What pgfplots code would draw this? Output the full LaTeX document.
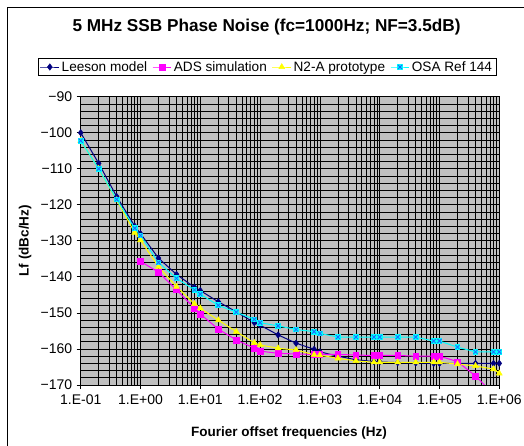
\documentclass[border=0pt]{standalone}
\usepackage{fontspec}
\setmainfont{Liberation Sans}
\usepackage{pgfplots}
\pgfplotsset{compat=1.18}
\definecolor{leeson}{HTML}{000080}
\definecolor{ads}{HTML}{FF00FF}
\definecolor{proto}{HTML}{FFFF00}
\definecolor{osa}{HTML}{00FFFF}
\definecolor{osax}{HTML}{1E64FF}
\definecolor{plotbg}{HTML}{C0C0C0}

\pgfdeclareplotmark{osabox}{%
  \pgfpathrectangle{\pgfpoint{-\pgfplotmarksize}{-\pgfplotmarksize}}%
    {\pgfpoint{2\pgfplotmarksize}{2\pgfplotmarksize}}%
  \pgfsetfillcolor{osa}\pgfusepath{fill}%
  \pgfpathmoveto{\pgfpoint{-0.7\pgfplotmarksize}{-0.7\pgfplotmarksize}}%
  \pgfpathlineto{\pgfpoint{0.7\pgfplotmarksize}{0.7\pgfplotmarksize}}%
  \pgfpathmoveto{\pgfpoint{-0.7\pgfplotmarksize}{0.7\pgfplotmarksize}}%
  \pgfpathlineto{\pgfpoint{0.7\pgfplotmarksize}{-0.7\pgfplotmarksize}}%
  \pgfsetstrokecolor{osax}\pgfusepath{stroke}%
}

\begin{document}
\begin{tikzpicture}
\useasboundingbox (-80.7pt,-61pt) rectangle (443.3pt,385pt);
\fill[white] (-80.7pt,-61pt) rectangle (443.3pt,385pt);
\draw[line width=0.9pt] (-73.7pt,-80pt) rectangle (460pt,378pt);
\begin{axis}[
  scale only axis,
  width=418.6pt, height=288.3pt,
  xmode=log,
  xmin=0.1, xmax=1e6,
  ymin=-170, ymax=-90,
  xtick={0.1,1,10,100,1000,10000,100000,1000000},
  xticklabels={1.E-01,1.E+00,1.E+01,1.E+02,1.E+03,1.E+04,1.E+05,1.E+06},
  ytick={-170,-160,-150,-140,-130,-120,-110,-100,-90},
  yticklabels={−170,−160,−150,−140,−130,−120,−110,−100,−90},
  minor y tick num=4,
  tick pos=left,
  tick align=outside,
  major tick length=4pt,
  minor tick length=0pt,
  tick style={black, line width=0.8pt},
  grid=both,
  major grid style={black, line width=0.8pt},
  minor grid style={black, line width=0.8pt},
  axis background/.style={fill=plotbg},
  axis line style={black, line width=0.8pt},
  ticklabel style={font=\fontsize{14}{16}\selectfont},
  xticklabel style={yshift=-2pt},
  yticklabel style={xshift=-1pt},
  title={5 MHz SSB Phase Noise (fc=1000Hz; NF=3.5dB)},
  title style={at={(0.444,1.221)}, anchor=center, font=\fontsize{17.2}{19}\selectfont\bfseries},
  xlabel={Fourier offset frequencies (Hz)},
  every axis x label/.style={at={(0.4976,-0.1665)}, anchor=center, font=\fontsize{13.5}{15}\selectfont\bfseries},
  ylabel={Lf (dBc/Hz)},
  every axis y label/.style={at={(-0.133,0.5)}, rotate=90, anchor=center, font=\fontsize{13.5}{15}\selectfont\bfseries},
  legend columns=4,
  legend style={at={(0.445,1.103)}, anchor=center, draw=black, line width=0.8pt, fill=white,
    font=\fontsize{13.6}{15}\selectfont, inner xsep=2pt, inner ysep=1pt,
    /tikz/every even column/.append style={column sep=3pt}},
  legend image code/.code={%
    \draw[mark repeat=2,mark phase=2] plot coordinates {(0cm,0cm) (0.33cm,0cm) (0.66cm,0cm)};},
]
\addplot[leeson, line width=1pt, mark=diamond*, mark size=3.2pt, mark options={fill=leeson, line width=0.5pt}] coordinates {
  (0.1,-100) (0.2,-108.5) (0.4,-117.7) (0.8,-125.9) (1,-128)
  (2,-134.8) (4,-139.3) (8,-142.9) (10,-143.8)
  (20,-146.9) (40,-149.7) (80,-152.7) (100,-153.4)
  (200,-156.1) (400,-158.4) (800,-160.1) (1000,-160.8)
  (2000,-162) (4000,-163) (8000,-163.5) (10000,-163.6)
  (20000,-163.8) (40000,-163.9) (80000,-164) (100000,-164)
  (200000,-164) (400000,-164) (800000,-164) (1000000,-164)
};
\addlegendentry{Leeson model}
\addplot[ads, line width=1pt, mark=square*, mark size=2.8pt, mark options={fill=ads, line width=0.5pt}] coordinates {
  (1,-135.7)
  (2,-138.7) (4,-143.6) (8,-148.7) (10,-150.3)
  (20,-154.5) (40,-157.5) (80,-159.8) (100,-160.6)
  (200,-161.2) (400,-161.4) (800,-161.5) (1000,-161.5)
  (2000,-161.5) (4000,-161.7) (8000,-161.8) (10000,-161.8)
  (20000,-161.8) (40000,-162) (80000,-162) (100000,-162)
  (200000,-163.5) (400000,-167.5) (800000,-172.5) (1000000,-174)
};
\addlegendentry{ADS simulation}
\addplot[proto, line width=1pt, mark=triangle*, mark size=3.4pt, mark options={fill=proto, line width=0.5pt}] coordinates {
  (0.1,-102.2) (0.2,-110) (0.4,-118.7) (0.8,-127.7) (1,-129.8)
  (2,-137.2) (4,-142.7) (8,-147.5) (10,-148.7)
  (20,-152) (40,-155.2) (80,-158.3) (100,-158.9)
  (200,-159.8) (400,-160.3) (800,-161.6) (1000,-161.7)
  (2000,-162.6) (4000,-163.3) (8000,-163.7) (10000,-163.7)
  (20000,-163.7) (40000,-163.7) (80000,-163.7) (100000,-163.7)
  (200000,-164.2) (400000,-164.7) (800000,-165.6) (1000000,-166.8)
};
\addlegendentry{N2-A prototype}
\addplot[osa, line width=1pt, mark=osabox, mark size=2.9pt, mark options={line width=0.8pt}] coordinates {
  (0.1,-102.2) (0.2,-110) (0.4,-118.5) (0.8,-126.5) (1,-128.5)
  (2,-136) (4,-140.4) (8,-143.6) (10,-144.8)
  (20,-147.9) (40,-149.8) (80,-151.8) (100,-152.7)
  (200,-153.6) (400,-154.6) (800,-155.2) (1000,-155.7)
  (2000,-156.7) (4000,-156.7) (8000,-156.7) (10000,-156.7)
  (20000,-156.7) (40000,-156.7) (80000,-157.8) (100000,-157.8)
  (200000,-159.5) (400000,-160.8) (800000,-160.8) (1000000,-160.8)
};
\addlegendentry{OSA Ref 144}
\end{axis}
\end{tikzpicture}
\end{document}
